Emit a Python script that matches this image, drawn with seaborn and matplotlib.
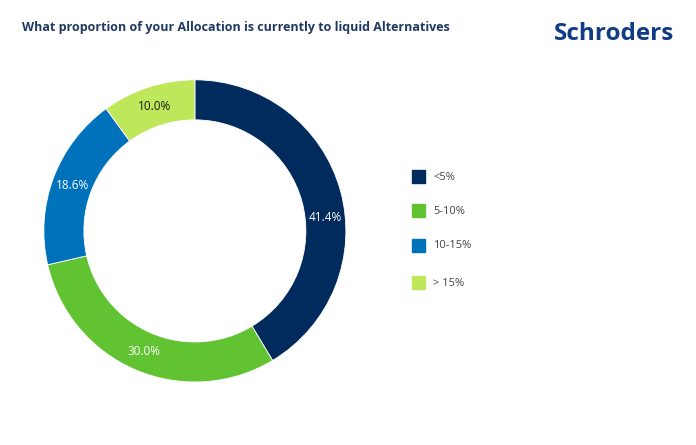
import numpy as np
import matplotlib.pyplot as plt
import seaborn as sns

labels = ['<5%', '5-10%', '10-15%', '> 15%']
values = [41.4, 30.0, 18.6, 10.0]
colors = ['#002B5C', '#62C332', '#0072BC', '#BEE75A']
text_colors = ['white', 'white', 'white', '#1a1a1a']

sns.set_theme(style='white')
plt.rcParams['font.family'] = ['Open Sans', 'DejaVu Sans']

fig = plt.figure(figsize=(6.96, 4.45), dpi=100)
ax = fig.add_axes([0.063, 0.1416, 0.434, 0.679])

wedges, texts, autotexts = ax.pie(
    values, colors=colors, startangle=90, counterclock=False,
    autopct='%1.1f%%', pctdistance=0.865,
    wedgeprops=dict(width=0.265, edgecolor='white', linewidth=0.6),
)
for t, c in zip(autotexts, text_colors):
    t.set_color(c)
    t.set_fontsize(8.5)
# the biggest slice's label sits lower on the ring in the original
ang = np.deg2rad(5.7)
autotexts[0].set_position((0.865 * np.cos(ang), 0.865 * np.sin(ang)))
ax.set_aspect('auto')
ax.set_xlim(-1, 1)
ax.set_ylim(-1, 1)

fig.text(22 / 696, 1 - 27 / 445, 'What proportion of your Allocation is currently to liquid Alternatives',
         fontsize=9, fontweight='bold', color='#1F3864', va='center', ha='left')
fig.text(674 / 696, 1 - 34 / 445, 'Schroders', fontsize=17.5, fontweight='bold',
         color='#103C84', va='center', ha='right')

# legend
leg_y = [177, 211, 246, 283]
for lab, col, y in zip(labels, colors, leg_y):
    fig.patches.append(plt.Rectangle((412 / 696, 1 - (y + 6) / 445), 13 / 696, 13 / 445,
                                     transform=fig.transFigure, color=col, figure=fig))
    fig.text(433 / 696, 1 - y / 445, lab, fontsize=8, color='#444444', va='center', ha='left')

fig.savefig('out.png', dpi=100, facecolor='white')
